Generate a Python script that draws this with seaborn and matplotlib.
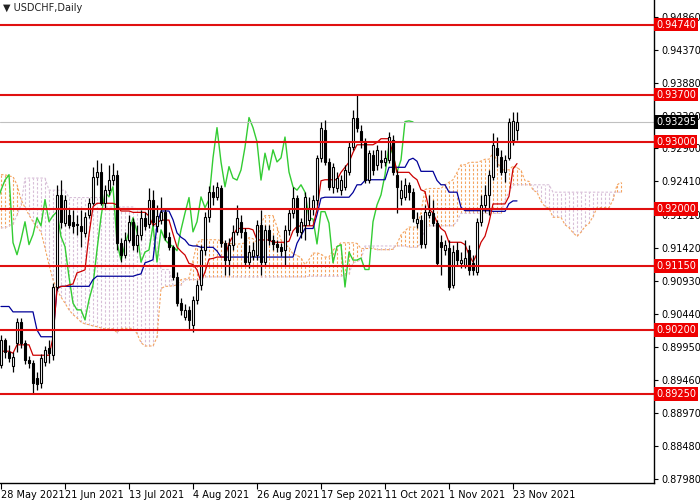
import numpy as np
import pandas as pd
import seaborn as sns
import matplotlib.pyplot as plt
from matplotlib.transforms import ScaledTranslation

# USDCHF daily candles (28 May 2021 .. 24 Nov 2021)
opens = [0.8968, 0.9005, 0.8988, 0.8967, 0.9001, 0.9032, 0.9001, 0.8976, 0.8971, 0.8949,
         0.8941, 0.8973, 0.8994, 0.8983, 0.9084, 0.9221, 0.9179, 0.9191, 0.9181, 0.9176,
         0.9175, 0.9165, 0.9191, 0.9209, 0.9248, 0.9255, 0.9209, 0.9228, 0.9243, 0.9251,
         0.9150, 0.9132, 0.9154, 0.9181, 0.9147, 0.9162, 0.9187, 0.9178, 0.9214, 0.9175,
         0.9184, 0.9196, 0.9159, 0.9144, 0.9099, 0.9060, 0.9040, 0.9050, 0.9028, 0.9065,
         0.9087, 0.9139, 0.9188, 0.9225, 0.9218, 0.9231, 0.9150, 0.9124, 0.9147, 0.9166,
         0.9181, 0.9166, 0.9121, 0.9130, 0.9132, 0.9176, 0.9121, 0.9169, 0.9154, 0.9148,
         0.9144, 0.9139, 0.9169, 0.9194, 0.9217, 0.9166, 0.9176, 0.9184, 0.9202, 0.9214,
         0.9276, 0.9318, 0.9270, 0.9233, 0.9231, 0.9228, 0.9233, 0.9255, 0.9292, 0.9336,
         0.9316, 0.9300, 0.9243, 0.9281, 0.9266, 0.9273, 0.9270, 0.9273, 0.9303, 0.9251,
         0.9217, 0.9218, 0.9236, 0.9225, 0.9179, 0.9184, 0.9148, 0.9191, 0.9194, 0.9179,
         0.9151, 0.9139, 0.9142, 0.9087, 0.9139, 0.9120, 0.9117, 0.9139, 0.9120, 0.9107,
         0.9181, 0.9206, 0.9221, 0.9248, 0.9291, 0.9278, 0.9255, 0.9276, 0.9303, 0.9318]
highs = [0.9013, 0.9008, 0.8998, 0.8988, 0.9038, 0.9038, 0.9005, 0.8982, 0.8976, 0.8958,
         0.8985, 0.8996, 0.9005, 0.9090, 0.9236, 0.9243, 0.9221, 0.9202, 0.9199, 0.9191,
         0.9199, 0.9196, 0.9217, 0.9263, 0.9273, 0.9269, 0.9236, 0.9266, 0.9269, 0.9258,
         0.9157, 0.9166, 0.9191, 0.9187, 0.9176, 0.9199, 0.9196, 0.9231, 0.9228, 0.9206,
         0.9218, 0.9202, 0.9166, 0.9147, 0.9107, 0.9068, 0.9058, 0.9056, 0.9071, 0.9095,
         0.9147, 0.9196, 0.9234, 0.9236, 0.9240, 0.9236, 0.9154, 0.9157, 0.9176, 0.9206,
         0.9191, 0.9172, 0.9147, 0.9151, 0.9184, 0.9199, 0.9176, 0.9176, 0.9162, 0.9154,
         0.9150, 0.9176, 0.9202, 0.9233, 0.9221, 0.9187, 0.9225, 0.9218, 0.9221, 0.9281,
         0.9330, 0.9333, 0.9276, 0.9269, 0.9255, 0.9251, 0.9266, 0.9300, 0.9347, 0.9370,
         0.9325, 0.9306, 0.9288, 0.9288, 0.9295, 0.9288, 0.9288, 0.9315, 0.9310, 0.9258,
         0.9243, 0.9246, 0.9240, 0.9231, 0.9196, 0.9191, 0.9206, 0.9221, 0.9214, 0.9184,
         0.9162, 0.9154, 0.9154, 0.9147, 0.9151, 0.9136, 0.9154, 0.9147, 0.9132, 0.9187,
         0.9221, 0.9236, 0.9258, 0.9313, 0.9307, 0.9288, 0.9281, 0.9336, 0.9344, 0.9344]
lows = [0.8964, 0.8979, 0.8973, 0.8958, 0.8988, 0.8994, 0.8970, 0.8964, 0.8927, 0.8931,
        0.8934, 0.8967, 0.8971, 0.8976, 0.9080, 0.9172, 0.9175, 0.9172, 0.9165, 0.9162,
        0.9144, 0.9159, 0.9187, 0.9206, 0.9236, 0.9206, 0.9202, 0.9221, 0.9236, 0.9139,
        0.9121, 0.9127, 0.9151, 0.9139, 0.9136, 0.9154, 0.9169, 0.9172, 0.9175, 0.9166,
        0.9178, 0.9154, 0.9139, 0.9095, 0.9056, 0.9043, 0.9035, 0.9020, 0.9017, 0.9058,
        0.9080, 0.9132, 0.9181, 0.9206, 0.9214, 0.9144, 0.9102, 0.9102, 0.9139, 0.9162,
        0.9157, 0.9117, 0.9112, 0.9124, 0.9124, 0.9102, 0.9115, 0.9147, 0.9139, 0.9136,
        0.9130, 0.9117, 0.9162, 0.9187, 0.9160, 0.9157, 0.9154, 0.9176, 0.9191, 0.9206,
        0.9270, 0.9266, 0.9228, 0.9224, 0.9225, 0.9221, 0.9228, 0.9251, 0.9288, 0.9315,
        0.9291, 0.9239, 0.9239, 0.9251, 0.9258, 0.9261, 0.9264, 0.9269, 0.9251, 0.9194,
        0.9206, 0.9214, 0.9214, 0.9181, 0.9172, 0.9142, 0.9142, 0.9187, 0.9175, 0.9115,
        0.9102, 0.9132, 0.9080, 0.9083, 0.9117, 0.9112, 0.9112, 0.9102, 0.9102, 0.9102,
        0.9175, 0.9196, 0.9191, 0.9243, 0.9263, 0.9251, 0.9240, 0.9273, 0.9295, 0.9303]
closes = [0.9005, 0.8988, 0.8979, 0.8980, 0.9032, 0.9001, 0.8976, 0.8971, 0.8941, 0.8940,
          0.8979, 0.8991, 0.8986, 0.9084, 0.9221, 0.9181, 0.9214, 0.9176, 0.9175, 0.9178,
          0.9168, 0.9188, 0.9209, 0.9248, 0.9255, 0.9209, 0.9228, 0.9243, 0.9251, 0.9150,
          0.9132, 0.9154, 0.9181, 0.9147, 0.9162, 0.9187, 0.9175, 0.9214, 0.9181, 0.9190,
          0.9196, 0.9159, 0.9144, 0.9099, 0.9060, 0.9050, 0.9050, 0.9035, 0.9065, 0.9087,
          0.9139, 0.9188, 0.9225, 0.9218, 0.9233, 0.9150, 0.9124, 0.9147, 0.9166, 0.9187,
          0.9166, 0.9121, 0.9136, 0.9139, 0.9176, 0.9121, 0.9169, 0.9154, 0.9148, 0.9144,
          0.9138, 0.9169, 0.9194, 0.9217, 0.9166, 0.9181, 0.9218, 0.9202, 0.9214, 0.9276,
          0.9321, 0.9270, 0.9233, 0.9263, 0.9246, 0.9243, 0.9258, 0.9292, 0.9336, 0.9321,
          0.9300, 0.9243, 0.9283, 0.9258, 0.9288, 0.9270, 0.9276, 0.9307, 0.9255, 0.9233,
          0.9228, 0.9236, 0.9225, 0.9187, 0.9185, 0.9148, 0.9196, 0.9196, 0.9179, 0.9120,
          0.9144, 0.9147, 0.9084, 0.9136, 0.9124, 0.9124, 0.9127, 0.9110, 0.9110, 0.9181,
          0.9206, 0.9221, 0.9251, 0.9295, 0.9281, 0.9255, 0.9273, 0.9330, 0.9331, 0.93295]

# indicator values at the left edge (need history before 28 May)
kijun_head = [0.9055, 0.9055, 0.9055, 0.9047, 0.9047, 0.9047, 0.9047, 0.9047, 0.9047, 0.9020,
              0.9010, 0.9010, 0.9010, 0.9010]
span_a_head = [0.9251, 0.9251, 0.9249, 0.9248, 0.9236, 0.9214, 0.9202, 0.9191, 0.9181, 0.9173,
               0.9166, 0.9142, 0.9117, 0.9095, 0.9080, 0.9069, 0.9060, 0.9050, 0.9043, 0.9038,
               0.9032, 0.9029, 0.9028, 0.9026, 0.9025, 0.9023]
span_b_head = [0.9172, 0.9172, 0.9175, 0.9178, 0.9191, 0.9206, 0.9246, 0.9246, 0.9246, 0.9246,
               0.9246, 0.9246, 0.9228, 0.9228, 0.9228, 0.9228, 0.9228, 0.9217, 0.9217, 0.9217,
               0.9217, 0.9217, 0.9217, 0.9217, 0.9217, 0.9217, 0.9203, 0.9203, 0.9203, 0.9203,
               0.9203, 0.9203, 0.9203, 0.9203, 0.9199, 0.9199, 0.9199, 0.9199, 0.9199, 0.9154,
               0.9110, 0.9110, 0.9110, 0.9087, 0.9087, 0.9087, 0.9095, 0.9095, 0.9095, 0.9095,
               0.9095, 0.9099, 0.9099, 0.9099, 0.9099, 0.9099, 0.9099, 0.9099, 0.9099, 0.9099,
               0.9099, 0.9099, 0.9099, 0.9099, 0.9099, 0.9099, 0.9099, 0.9099, 0.9099, 0.9099,
               0.9099, 0.9099, 0.9099, 0.9099, 0.9099, 0.9099, 0.9099]

levels = [0.94740, 0.93700, 0.93000, 0.92000, 0.91150, 0.90200, 0.89250]
last_price = 0.93295
price_ticks = [0.94860, 0.94370, 0.93880, 0.93390, 0.92900, 0.92410, 0.91910, 0.91420,
               0.90930, 0.90440, 0.89950, 0.89460, 0.88970, 0.88480, 0.87980]
date_pos = [0, 16, 32, 48, 64, 80, 96, 112, 128]
date_labels = ["28 May 2021", "21 Jun 2021", "13 Jul 2021", "4 Aug 2021", "26 Aug 2021",
               "17 Sep 2021", "11 Oct 2021", "1 Nov 2021", "23 Nov 2021"]

sns.set_theme(style="white")
plt.rcParams["font.family"] = ["DejaVu Sans"]

df = pd.DataFrame({"open": opens, "high": highs, "low": lows, "close": closes})
df["bar"] = np.arange(len(df))
shift = 26

# ichimoku lines
df["tenkan"] = (df.high.rolling(9, min_periods=1).max() + df.low.rolling(9, min_periods=1).min()) / 2
df["kijun"] = (df.high.rolling(26, min_periods=1).max() + df.low.rolling(26, min_periods=1).min()) / 2
df.loc[:len(kijun_head) - 1, "kijun"] = kijun_head
mid52 = (df.high.rolling(52).max() + df.low.rolling(52).min()) / 2

cloud = pd.DataFrame({
    "span_a": span_a_head + list((df.tenkan + df.kijun).values / 2),
    "span_b": span_b_head + list(mid52.values[51:]),
})
cloud["bar"] = np.arange(len(cloud))
chikou = pd.DataFrame({"bar": df.bar - shift, "close": df.close})

fig = plt.figure(figsize=(7, 5), dpi=100)
ax = fig.add_axes([0, 17 / 500, 654 / 700, 483 / 500])

# kumo: dotted vertical hatching
up = cloud.span_a >= cloud.span_b
dots = [(0, (2.2, 1.6))]
ax.vlines(cloud.bar[up], cloud.span_b[up], cloud.span_a[up], colors="#f4a460",
          linestyles=dots, lw=0.8, zorder=1)
ax.vlines(cloud.bar[~up], cloud.span_a[~up], cloud.span_b[~up], colors="#d8bfd8",
          linestyles=dots, lw=0.8, zorder=1)
sns.lineplot(data=cloud, x="bar", y="span_a", color="#f4a460", linestyle=(0, (2.2, 1.6)), lw=0.8, ax=ax)
sns.lineplot(data=cloud, x="bar", y="span_b", color="#d8bfd8", linestyle=(0, (2.2, 1.6)), lw=0.8, ax=ax)

sns.lineplot(data=chikou, x="bar", y="close", color="#33cc33", lw=1, ax=ax)
sns.lineplot(data=df, x="bar", y="kijun", color="#000099", lw=0.9, ax=ax)
sns.lineplot(data=df, x="bar", y="tenkan", color="#cc0000", lw=0.9, ax=ax)

# candles
bull = df.close >= df.open
ax.vlines(df.bar, df.low, df.high, color="black", lw=0.9, zorder=4)
body_lo = np.minimum(df.open, df.close)
body_h = np.maximum(np.abs(df.close - df.open), 0.00006)
ax.bar(df.bar[bull], body_h[bull], bottom=body_lo[bull], width=0.7, color="white",
       edgecolor="black", lw=0.8, zorder=5)
ax.bar(df.bar[~bull], body_h[~bull], bottom=body_lo[~bull], width=0.7, color="black",
       edgecolor="black", lw=0.8, zorder=5)

# support / resistance levels
ax.axhline(last_price, color="#c0c0c0", lw=0.8, zorder=2)
for lv in levels:
    ax.axhline(lv, color="#e01010", lw=1.5, zorder=6)
    ax.text(1.003, lv, f"{lv:.5f}", transform=ax.get_yaxis_transform(), ha="left", va="center",
            fontsize=7, color="white", clip_on=False, zorder=10,
            bbox=dict(boxstyle="square,pad=0.18", fc="#ee0000", ec="none"))
ax.text(1.003, last_price, f"{last_price:.5f}", transform=ax.get_yaxis_transform(), ha="left",
        va="center", fontsize=7, color="white", clip_on=False, zorder=10,
        bbox=dict(boxstyle="square,pad=0.18", fc="black", ec="none"))

ax.text(0.004, 0.993, "\u25bc USDCHF,Daily", transform=ax.transAxes, ha="left", va="top",
        fontsize=7, color="#222222")

ax.set_xlim(-0.25, 163.25)
ax.set_ylim(0.87925, 0.95108)
ax.yaxis.tick_right()
ax.set_yticks(price_ticks)
ax.set_yticklabels([f"{t:.5f}" for t in price_ticks])
ax.set_xticks(date_pos)
ax.set_xticklabels(date_labels, ha="left")
offset = ScaledTranslation(2 / 100, 0, fig.dpi_scale_trans)
for lab in ax.get_xticklabels():
    lab.set_transform(lab.get_transform() + offset)
ax.tick_params(axis="y", right=True, length=3, width=0.8, labelsize=7, pad=2, colors="black")
ax.tick_params(axis="x", bottom=True, length=4, width=0.8, labelsize=7, pad=1, colors="black")
ax.set_xlabel("")
ax.set_ylabel("")
for side in ["left", "top"]:
    ax.spines[side].set_visible(False)
for side in ["right", "bottom"]:
    ax.spines[side].set_color("black")
    ax.spines[side].set_linewidth(1)

fig.savefig("out.png", dpi=100, facecolor="white")
